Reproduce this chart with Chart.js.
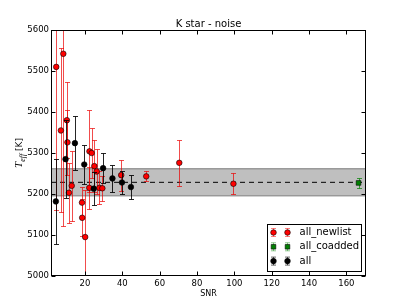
<!DOCTYPE html>
<html>
<head>
<meta charset="utf-8">
<script src="https://cdn.jsdelivr.net/npm/chart.js@4.4.1/dist/chart.umd.min.js"></script>
<style>
  html, body { margin: 0; padding: 0; background: #fff; }
</style>
</head>
<body>
<canvas id="chart" width="407" height="307"></canvas>
<script>
// all_newlist
const newlistSnr  = [4.6, 8.4, 7.1, 10.3, 10.6, 11.4, 12.9, 18.4, 18.5, 20.1, 22.4, 23.6, 25.0, 26.3, 22.3, 27.7, 29.3, 39.4, 52.8, 70.5, 99.5];
const newlistTeff = [5510, 5542, 5355, 5380, 5326, 5203, 5220, 5179, 5142, 5095, 5304, 5300, 5268, 5255, 5215, 5215, 5214, 5246, 5243, 5276, 5225];
const newlistErr  = [350, 420, 200, 92, 80, 73, 85, 38, 45, 115, 100, 62, 63, 54, 52, 40, 30, 38, 12, 56, 25];

// all_coadded
const coaddedSnr  = [166.5];
const coaddedTeff = [5227];
const coaddedErr  = [13];

// all
const allSnr  = [4.4, 9.6, 14.6, 19.6, 24.7, 29.7, 34.7, 39.8, 44.6];
const allTeff = [5182, 5285, 5324, 5272, 5213, 5263, 5238, 5228, 5217];
const allErr  = [104, 95, 66, 48, 40, 37, 32, 28, 29];

// mean +/- spread band
const bandMean = 5228.5;
const bandHalf = 33;

const xTicks = [20, 40, 60, 80, 100, 120, 140, 160];
const yTicks = [5000, 5100, 5200, 5300, 5400, 5500, 5600];
const xMin = 1.8, xMax = 170.5;

const toPoints = (xs, ys) => xs.map((v, i) => ({ x: v, y: ys[i] }));

const FONT = 'DejaVu Sans';

// error bars drawn right before each series' markers
const errorBars = {
  id: 'errorBars',
  beforeDatasetDraw(chart, args) {
    const ds = chart.data.datasets[args.index];
    if (!ds.errors) return;
    const { ctx, chartArea, scales: { x, y } } = chart;
    ctx.save();
    ctx.beginPath();
    ctx.rect(chartArea.left, chartArea.top, chartArea.width, chartArea.height);
    ctx.clip();
    ctx.strokeStyle = ds.errorColor;
    ctx.lineWidth = 1;
    ds.data.forEach((p, i) => {
      const px = Math.round(x.getPixelForValue(p.x)) + 0.5;
      const top = Math.round(y.getPixelForValue(p.y + ds.errors[i])) + 0.5;
      const bot = Math.round(y.getPixelForValue(p.y - ds.errors[i])) + 0.5;
      ctx.beginPath();
      ctx.moveTo(px, top); ctx.lineTo(px, bot);
      ctx.moveTo(px - 2.5, top); ctx.lineTo(px + 2.5, top);
      ctx.moveTo(px - 2.5, bot); ctx.lineTo(px + 2.5, bot);
      ctx.stroke();
    });
    ctx.restore();
  }
};

// frame, inward ticks, title, y label, legend
const decorations = {
  id: 'decorations',
  afterDraw(chart) {
    const { ctx, chartArea: a, scales: { x, y } } = chart;
    ctx.save();
    ctx.strokeStyle = '#000';
    ctx.lineWidth = 1;
    const L = Math.round(a.left) + 0.5, R = Math.round(a.right) - 0.5;
    const T = Math.round(a.top) + 0.5, B = Math.round(a.bottom) - 0.5;
    ctx.beginPath();
    xTicks.forEach(v => {
      const px = Math.round(x.getPixelForValue(v)) + 0.5;
      ctx.moveTo(px, B); ctx.lineTo(px, B - 4);
      ctx.moveTo(px, T); ctx.lineTo(px, T + 4);
    });
    yTicks.forEach(v => {
      const py = Math.round(y.getPixelForValue(v)) + 0.5;
      ctx.moveTo(L, py); ctx.lineTo(L + 4, py);
      ctx.moveTo(R, py); ctx.lineTo(R - 4, py);
    });
    ctx.stroke();
    ctx.strokeRect(L, T, R - L, B - T);

    // title
    ctx.fillStyle = '#000';
    ctx.font = '10px "' + FONT + '"';
    ctx.textAlign = 'center';
    ctx.textBaseline = 'middle';
    ctx.fillText('K star - noise', (a.left + a.right) / 2, 24);

    // y axis label: T_eff [K]
    ctx.save();
    ctx.translate(19, (a.top + a.bottom) / 2);
    ctx.rotate(-Math.PI / 2);
    ctx.textAlign = 'left';
    ctx.textBaseline = 'alphabetic';
    const fT = 'italic 11px "Liberation Serif"';
    const fSub = 'italic 8px "Liberation Serif"';
    const fK = '9px "' + FONT + '"';
    ctx.font = fT; const wT = ctx.measureText('T').width;
    ctx.font = fSub; const wS = ctx.measureText('eff').width;
    ctx.font = fK; const wK = ctx.measureText(' [K]').width;
    let cx = -(wT + wS + wK) / 2;
    ctx.font = fT; ctx.fillText('T', cx, 3); cx += wT;
    ctx.font = fSub; ctx.fillText('eff', cx, 5.5); cx += wS;
    ctx.font = fK; ctx.fillText(' [K]', cx, 3);
    ctx.restore();

    // legend, lower right
    const bw = 94, bh = 47;
    const bx = Math.round(a.right) - 5 - bw, by = Math.round(a.bottom) - 5 - bh;
    ctx.fillStyle = '#fff';
    ctx.fillRect(bx, by, bw, bh);
    ctx.strokeStyle = '#000';
    ctx.strokeRect(bx + 0.5, by + 0.5, bw, bh);
    const items = chart.data.datasets.filter(d => d.errors);
    items.forEach((d, i) => {
      const ry = by + 8.5 + i * 14.3;
      [bx + 6.5, bx + 20.5].forEach(mx => {
        ctx.strokeStyle = d.legendErrorColor;
        ctx.beginPath();
        ctx.moveTo(mx, ry - 4); ctx.lineTo(mx, ry + 4);
        ctx.moveTo(mx - 2.5, ry - 4); ctx.lineTo(mx + 2.5, ry - 4);
        ctx.moveTo(mx - 2.5, ry + 4); ctx.lineTo(mx + 2.5, ry + 4);
        ctx.stroke();
        ctx.fillStyle = d.backgroundColor;
        ctx.strokeStyle = '#000';
        ctx.lineWidth = 0.6;
        ctx.beginPath();
        if (d.pointStyle === 'rect') ctx.rect(mx - 2.3, ry - 2.3, 4.6, 4.6);
        else ctx.arc(mx, ry, 2.8, 0, Math.PI * 2);
        ctx.fill(); ctx.stroke();
        ctx.lineWidth = 1;
      });
      ctx.fillStyle = '#000';
      ctx.font = '10px "' + FONT + '"';
      ctx.textAlign = 'left';
      ctx.textBaseline = 'middle';
      ctx.fillText(d.label, bx + 32.5, ry);
    });
    ctx.restore();
  }
};

const tickFont = { family: FONT, size: 8.5 };

new Chart(document.getElementById('chart'), {
  type: 'scatter',
  data: {
    datasets: [
      {
        type: 'line', label: 'band_low',
        data: [{ x: xMin, y: bandMean - bandHalf }, { x: xMax, y: bandMean - bandHalf }],
        borderColor: '#7a7a7a', borderWidth: 1, pointRadius: 0, fill: false, order: 10
      },
      {
        type: 'line', label: 'band_high',
        data: [{ x: xMin, y: bandMean + bandHalf }, { x: xMax, y: bandMean + bandHalf }],
        borderColor: '#7a7a7a', borderWidth: 1, pointRadius: 0,
        fill: '-1', backgroundColor: 'rgba(128,128,128,0.5)', order: 9
      },
      {
        type: 'line', label: 'mean',
        data: [{ x: xMin, y: bandMean }, { x: xMax, y: bandMean }],
        borderColor: '#000', borderWidth: 1, borderDash: [5, 4], pointRadius: 0, fill: false, order: 8
      },
      {
        label: 'all_newlist', data: toPoints(newlistSnr, newlistTeff), errors: newlistErr,
        errorColor: 'rgba(235,0,0,0.7)', legendErrorColor: 'rgba(255,0,0,0.5)',
        backgroundColor: '#ff0000', borderColor: '#000', pointStyle: 'circle',
        pointRadius: 2.8, pointBorderWidth: 0.6, order: 3
      },
      {
        label: 'all_coadded', data: toPoints(coaddedSnr, coaddedTeff), errors: coaddedErr,
        errorColor: 'rgba(0,128,0,0.7)', legendErrorColor: 'rgba(0,128,0,0.45)',
        backgroundColor: '#008000', borderColor: '#000', pointStyle: 'rect',
        pointRadius: 3.3, pointBorderWidth: 0.6, order: 2
      },
      {
        label: 'all', data: toPoints(allSnr, allTeff), errors: allErr,
        errorColor: 'rgba(0,0,0,0.85)', legendErrorColor: 'rgba(0,0,0,0.6)',
        backgroundColor: '#000', borderColor: '#000', pointStyle: 'circle',
        pointRadius: 2.8, pointBorderWidth: 0.6, order: 1
      }
    ]
  },
  options: {
    responsive: false,
    animation: false,
    layout: { padding: { left: 0, right: 41, top: 30, bottom: 0 } },
    plugins: {
      legend: { display: false },
      tooltip: { enabled: false },
      title: { display: false }
    },
    scales: {
      x: {
        type: 'linear', min: xMin, max: xMax,
        grid: { display: false, drawTicks: false },
        border: { display: false },
        afterBuildTicks: s => { s.ticks = xTicks.map(v => ({ value: v })); },
        afterFit: s => { s.height = 31; },
        ticks: { padding: 3, color: '#000', font: tickFont, maxRotation: 0, autoSkip: false, callback: v => String(v) },
        title: { display: true, text: 'SNR', color: '#000', font: { family: FONT, size: 8 }, padding: { top: 0, bottom: 8 } }
      },
      y: {
        type: 'linear', min: 5000, max: 5600,
        grid: { display: false, drawTicks: false },
        border: { display: false },
        afterBuildTicks: s => { s.ticks = yTicks.map(v => ({ value: v })); },
        afterFit: s => { s.width = 51; },
        ticks: { padding: 2, color: '#000', font: tickFont, autoSkip: false, callback: v => String(v) }
      }
    }
  },
  plugins: [errorBars, decorations]
});
</script>
</body>
</html>
